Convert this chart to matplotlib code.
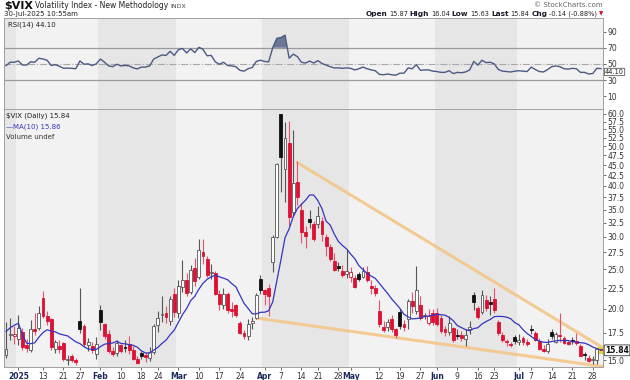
import numpy as np
import pandas as pd
import matplotlib
matplotlib.use('Agg')
import matplotlib.pyplot as plt
from matplotlib.ticker import FixedLocator, NullLocator

# trading days shown (Dec 27 2024 .. Jul 30 2025)
holidays = ['2025-01-01', '2025-01-09', '2025-01-20', '2025-02-17',
            '2025-04-18', '2025-05-26', '2025-06-19', '2025-07-04']
days = [d for d in pd.bdate_range('2024-12-27', '2025-07-30')
        if d.strftime('%Y-%m-%d') not in holidays]

# closes before the window, only used to start the MA(10)
warmup_close = [13.81, 14.69, 15.87, 27.62, 24.09, 18.36, 16.78, 14.27, 14.73]

opens = [15.45, 17.30, 17.20, 16.90, 17.60, 16.30, 15.90, 17.90, 18.00, 21.30,
         19.20, 18.90, 16.00, 16.20, 16.50, 15.00, 15.30, 15.00, 18.70, 18.20,
         16.30, 16.20, 15.50, 19.90, 18.40, 17.40, 15.80, 15.60, 16.30, 16.10,
         16.40, 15.90, 15.10, 15.60, 15.40, 15.20, 15.70, 18.30, 19.30, 19.60,
         18.70, 21.80, 19.60, 22.60, 23.60, 22.00, 25.20, 24.00, 27.50, 26.50,
         24.50, 24.50, 21.70, 20.50, 21.80, 20.00, 20.40, 18.50, 17.50, 17.20,
         18.50, 19.00, 23.70, 22.20, 22.50, 26.00, 30.00, 60.13, 44.00, 50.98,
         34.50, 40.90, 35.00, 30.80, 33.20, 32.30, 32.30, 32.80, 30.00, 28.40,
         26.20, 25.50, 24.70, 24.40, 23.90, 23.80, 24.30, 24.00, 24.60, 22.80,
         22.50, 19.80, 18.10, 18.10, 18.90, 17.90, 19.70, 18.40, 18.90, 20.90,
         19.80, 20.40, 19.25, 18.50, 19.60, 19.60, 19.00, 17.90, 17.60, 18.00,
         17.30, 17.30, 16.90, 17.90, 21.60, 20.10, 19.70, 21.00, 20.70, 21.10,
         18.60, 17.30, 16.70, 16.40, 17.10, 16.60, 17.00, 16.60, 17.90, 17.50,
         16.70, 16.00, 15.80, 17.60, 16.60, 17.30, 17.00, 16.60, 16.80, 16.70,
         16.20, 15.50, 15.20, 15.00, 15.00, 15.87]
highs = [18.61, 19.05, 18.20, 19.30, 18.00, 16.90, 18.80, 19.50, 20.30, 22.10,
         19.80, 19.00, 16.80, 16.80, 16.60, 15.40, 15.50, 15.20, 22.51, 18.40,
         17.00, 16.60, 17.10, 20.40, 18.50, 17.80, 16.10, 16.80, 16.40, 16.80,
         17.20, 16.20, 15.30, 15.80, 15.70, 16.10, 18.40, 19.80, 21.50, 20.30,
         21.50, 22.50, 23.50, 26.40, 24.50, 25.60, 26.60, 29.60, 29.60, 27.00,
         25.70, 24.80, 22.20, 22.50, 22.00, 20.80, 20.60, 18.70, 17.80, 18.90,
         19.10, 21.90, 24.20, 22.40, 23.00, 30.30, 45.60, 60.13, 57.50, 57.52,
         54.87, 46.00, 36.40, 32.00, 35.00, 32.80, 35.80, 33.50, 30.50, 28.90,
         27.40, 26.00, 25.60, 28.00, 25.30, 24.20, 24.60, 25.30, 25.50, 23.60,
         22.90, 21.00, 18.70, 18.90, 19.30, 18.00, 20.00, 18.80, 21.20, 22.00,
         25.50, 21.50, 19.50, 20.00, 20.00, 20.10, 19.30, 18.20, 19.20, 18.10,
         17.90, 17.70, 17.90, 18.70, 22.00, 20.30, 22.20, 21.60, 21.50, 22.50,
         18.80, 17.60, 16.90, 16.60, 17.30, 17.40, 17.20, 16.90, 18.30, 17.70,
         17.00, 16.30, 16.90, 17.90, 17.60, 19.50, 17.20, 16.70, 17.10, 17.50,
         16.40, 15.70, 15.40, 15.30, 16.00, 16.04]
lows = [15.20, 16.80, 16.40, 16.30, 15.90, 15.70, 15.70, 17.30, 17.80, 19.00,
        18.30, 15.90, 15.60, 15.60, 14.90, 14.60, 14.80, 14.60, 17.50, 16.10,
        15.80, 15.60, 15.10, 17.80, 16.90, 15.60, 15.30, 15.30, 15.60, 15.70,
        15.50, 15.00, 14.70, 15.10, 14.80, 14.90, 15.50, 17.60, 18.60, 18.50,
        18.30, 19.10, 19.00, 22.00, 21.50, 21.70, 22.80, 23.70, 25.80, 23.90,
        23.70, 21.60, 19.90, 20.00, 19.60, 19.10, 19.10, 17.40, 16.90, 16.80,
        17.90, 18.90, 21.70, 20.50, 19.20, 24.60, 29.80, 38.58, 36.50, 31.90,
        33.70, 36.00, 29.00, 28.20, 31.60, 29.30, 31.50, 29.30, 27.00, 26.20,
        24.70, 24.80, 23.90, 23.80, 23.30, 22.50, 23.40, 23.80, 23.30, 21.80,
        21.50, 18.10, 17.60, 17.70, 17.60, 17.00, 17.90, 17.70, 17.90, 19.60,
        19.40, 18.80, 18.90, 18.30, 18.30, 18.20, 17.50, 17.20, 17.30, 16.60,
        16.90, 16.70, 16.20, 17.40, 19.90, 18.90, 19.40, 19.80, 19.30, 19.50,
        17.30, 16.60, 16.20, 16.10, 16.40, 16.30, 16.30, 16.20, 17.40, 16.70,
        15.90, 15.70, 15.60, 16.90, 16.50, 16.60, 16.40, 16.30, 16.40, 16.30,
        15.30, 15.00, 14.80, 14.70, 14.70, 15.63]
closes = [15.95, 17.40, 17.35, 17.93, 16.13, 16.04, 17.82, 17.70, 19.54, 19.19,
          18.71, 16.12, 16.60, 15.97, 15.06, 15.10, 15.02, 14.85, 17.90, 16.41,
          16.56, 15.84, 16.43, 18.62, 17.21, 15.77, 15.50, 16.54, 15.81, 16.02,
          15.89, 15.10, 14.77, 15.35, 15.27, 15.66, 18.21, 18.98, 19.43, 19.10,
          21.13, 19.63, 22.78, 23.51, 21.93, 24.87, 23.37, 27.86, 26.92, 24.23,
          24.66, 21.77, 20.51, 21.70, 19.90, 19.80, 19.28, 17.48, 17.15, 18.33,
          18.69, 21.65, 22.28, 21.77, 21.51, 30.02, 45.31, 46.98, 52.33, 33.62,
          40.72, 37.56, 30.89, 30.12, 32.64, 29.65, 33.82, 30.57, 28.45, 26.47,
          24.84, 25.15, 24.17, 24.70, 24.60, 22.68, 23.64, 24.76, 23.55, 22.48,
          21.90, 18.39, 17.72, 18.62, 17.83, 17.24, 18.14, 18.09, 20.87, 20.28,
          22.29, 18.96, 19.31, 19.18, 18.57, 18.36, 17.69, 17.61, 18.48, 16.77,
          17.16, 16.95, 17.26, 18.02, 20.82, 19.11, 21.60, 20.14, 20.62, 19.83,
          17.48, 16.76, 16.59, 16.32, 16.73, 16.83, 16.64, 16.38, 17.79, 16.81,
          15.94, 15.78, 16.40, 17.20, 17.38, 17.16, 16.52, 16.41, 16.65, 16.50,
          15.37, 15.39, 14.93, 15.03, 15.98, 15.84]

# RSI(14)
rsi = [47.8, 52.0, 52.0, 53.6, 48.6, 48.5, 52.5, 52.0, 57.0, 56.0,
       54.5, 48.0, 49.0, 47.0, 44.6, 44.7, 44.5, 44.0, 53.6, 49.5,
       50.0, 48.0, 50.0, 56.0, 52.0, 47.5, 46.5, 49.5, 47.5, 48.0,
       47.5, 45.0, 43.8, 46.0, 46.0, 47.5, 56.0, 58.5, 61.0, 60.5,
       65.5, 60.5, 67.5, 69.0, 63.5, 68.5, 64.0, 70.5, 68.0, 60.0,
       60.5, 52.5, 49.5, 52.0, 48.0, 47.5, 46.5, 42.0, 41.0, 44.0,
       45.5, 53.0, 54.5, 53.0, 52.5, 70.0, 81.6, 82.5, 85.5, 57.0,
       62.0, 59.0, 52.0, 51.0, 53.5, 51.0, 54.0, 50.5, 48.5, 46.5,
       45.0, 45.0, 44.5, 45.0, 44.5, 42.5, 44.0, 46.0, 44.0, 42.5,
       41.5, 37.0, 36.5, 37.5, 36.5, 36.0, 38.5, 38.5, 45.0, 44.0,
       49.0, 42.0, 42.5, 42.5, 41.0, 40.5, 39.5, 39.5, 41.5, 38.0,
       39.5, 39.0, 40.0, 42.5, 53.0, 48.5, 54.5, 51.5, 52.0, 50.0,
       43.0, 41.0, 40.5, 40.0, 41.0, 41.5, 41.0, 40.5, 46.0, 43.0,
       40.5, 40.0, 43.0, 46.5, 47.5, 46.5, 44.0, 43.5, 44.5, 44.0,
       39.5, 39.5, 37.5, 38.0, 44.5, 44.1]

# wedge trendlines: (day index, price)
upper_line_x = [70.7, 145.5]
upper_line_y = [45.8, 16.07]
lower_line_x = [61.0, 145.5]
lower_line_y = [19.0, 14.45]

tick_dates = ['2025-01-02', '2025-01-13', '2025-01-21', '2025-01-27', '2025-02-03',
              '2025-02-10', '2025-02-18', '2025-02-24', '2025-03-03', '2025-03-10',
              '2025-03-17', '2025-03-24', '2025-04-01', '2025-04-07', '2025-04-14',
              '2025-04-21', '2025-04-28', '2025-05-01', '2025-05-12', '2025-05-19',
              '2025-05-27', '2025-06-02', '2025-06-09', '2025-06-16', '2025-06-23',
              '2025-07-01', '2025-07-07', '2025-07-14', '2025-07-21', '2025-07-28']
month_ticks = {'2025-01-02': '2025', '2025-02-03': 'Feb', '2025-03-03': 'Mar',
               '2025-04-01': 'Apr', '2025-05-01': 'May', '2025-06-02': 'Jun',
               '2025-07-01': 'Jul'}

price_ticks = [15.0, 17.5, 20.0, 22.5, 25.0, 27.5, 30.0, 32.5, 35.0, 37.5, 40.0,
               42.5, 45.0, 47.5, 50.0, 52.5, 55.0, 57.5, 60.0]
rsi_ticks = [10, 30, 50, 70, 90]

W, H = 630, 380
day_str = [d.strftime('%Y-%m-%d') for d in days]
x = np.arange(len(days))
ma10 = pd.Series(warmup_close + closes).rolling(10).mean().to_numpy()[len(warmup_close):]

fig = plt.figure(figsize=(W / 100, H / 100), dpi=100)
plt.rcParams['font.family'] = 'DejaVu Sans'


def fx(px):
    return px / W


def fy(py):
    return 1 - py / H


ax_r = fig.add_axes([fx(4), fy(109), fx(603) - fx(4), fy(18) - fy(109)])
ax = fig.add_axes([fx(4), fy(367), fx(603) - fx(4), fy(109) - fy(367)])

# month background bands
months = pd.Series([d.strftime('%Y-%m') for d in days])
k = 0
for m in months.unique():
    idx = np.where(months == m)[0]
    c = '#e6e6e6' if k % 2 == 0 else '#f2f2f2'
    for a in (ax, ax_r):
        a.axvspan(idx[0] - 0.5, idx[-1] + 0.5, color=c, zorder=0, lw=0)
    k += 1

# ---- RSI panel
ax_r.plot(x, rsi, color='#4c5a82', lw=1.0, zorder=3)
ax_r.fill_between(x, rsi, 70, where=np.array(rsi) > 70, interpolate=True,
                  color='#5f6b8c', alpha=0.9, zorder=2, lw=0)
ax_r.axhline(70, color='#9a9a9a', lw=0.9, zorder=1)
ax_r.axhline(30, color='#9a9a9a', lw=0.9, zorder=1)
ax_r.axhline(50, color='#a8a8a8', lw=0.8, ls='-.', zorder=1)
ax_r.set_ylim(-5.8, 106.7)
ax_r.set_xlim(-0.5, len(days) - 0.5)
ax_r.yaxis.tick_right()
ax_r.yaxis.set_major_locator(FixedLocator(rsi_ticks))
ax_r.set_xticks([])
ax_r.tick_params(axis='y', labelsize=5.5, length=2, width=0.5, pad=1, colors='#333333')
ax_r.text(0.006, 0.96, 'RSI(14) 44.10', transform=ax_r.transAxes, fontsize=5,
          va='top', ha='left', color='#222222')
ax_r.annotate('44.10', xy=(1, 40.0), xycoords=('axes fraction', 'data'),
              xytext=(1.5, 0), textcoords='offset points', fontsize=4.8, va='center',
              ha='left', color='#222222', zorder=10,
              bbox=dict(boxstyle='round,pad=0.1', fc='white', ec='#555555', lw=0.6))

# ---- price panel
for i in x:
    o, h, l, c = opens[i], highs[i], lows[i], closes[i]
    prev = warmup_close[-1] if i == 0 else closes[i - 1]
    up = c >= prev
    col = '#111111' if up else '#dd1133'
    wick = '#555555' if up else '#e8506e'
    ax.vlines(i, l, h, color=wick, lw=0.8, zorder=3)
    lo, hi = min(o, c), max(o, c)
    if hi / lo < 1.006:
        hi = lo * 1.006
    if c >= o:
        face, edge = 'white', ('#555555' if up else '#dd1133')
    else:
        face, edge = col, col
    ax.bar(i, hi - lo, bottom=lo, width=0.7, color=face, edgecolor=edge,
           lw=0.6, zorder=4)

ax.plot(x, ma10, color='#3535c0', lw=0.9, zorder=5)
ax.plot(upper_line_x, upper_line_y, color='#f4c68a', lw=2.2, alpha=0.9,
        zorder=2, solid_capstyle='butt')
ax.plot(lower_line_x, lower_line_y, color='#f4c68a', lw=2.2, alpha=0.9,
        zorder=2, solid_capstyle='butt')
# latest price marker
ax.scatter([x[-1]], [closes[-1]], marker='s', s=30, color='#e0d830', zorder=3.5,
           edgecolors='none')

ax.set_yscale('log')
ax.set_ylim(14.42, 61.7)
ax.set_xlim(-0.5, len(days) - 0.5)
ax.yaxis.tick_right()
ax.yaxis.set_major_locator(FixedLocator(price_ticks))
ax.yaxis.set_minor_locator(NullLocator())
ax.set_yticklabels(['%.1f' % t for t in price_ticks])
ax.tick_params(axis='y', labelsize=5.5, length=2, width=0.5, pad=1, colors='#333333')

tpos = [day_str.index(t) for t in tick_dates]
ax.set_xticks(tpos)
ax.set_xticklabels([month_ticks.get(t, str(int(t[-2:]))) for t in tick_dates])
ax.tick_params(axis='x', labelsize=5.5, length=2, width=0.5, pad=1.5, colors='#333333')
for lab, t in zip(ax.get_xticklabels(), tick_dates):
    if t in month_ticks:
        lab.set_fontweight('bold')
        lab.set_color('#1c2a5c')

ax.annotate('15.84', xy=(1, closes[-1]), xycoords=('axes fraction', 'data'),
            xytext=(1.5, 0), textcoords='offset points', fontsize=5.5, va='center',
            ha='left', color='#111111', fontweight='bold',
            bbox=dict(boxstyle='round,pad=0.12', fc='white', ec='#333333', lw=0.6))

ax.text(0.004, 0.985, '$VIX (Daily) 15.84', transform=ax.transAxes, fontsize=5,
        va='top', color='#222222')
ax.text(0.004, 0.945, '—MA(10) 15.86', transform=ax.transAxes, fontsize=5,
        va='top', color='#3535c0')
ax.text(0.004, 0.905, 'Volume undef', transform=ax.transAxes, fontsize=5,
        va='top', color='#333333')

for a in (ax, ax_r):
    for s in a.spines.values():
        s.set_color('#a0a0a0')
        s.set_linewidth(0.7)

# ---- header text
renderer = fig.canvas.get_renderer()


def seq_text(x0, y0, pieces, gap=2, right=False):
    arts = [fig.text(0, fy(y0), s, va='center', ha='left', **kw) for s, kw in pieces]
    widths = [t.get_window_extent(renderer).width for t in arts]
    xp = x0 - (sum(widths) + gap * (len(arts) - 1)) if right else x0
    for t, w in zip(arts, widths):
        t.set_x(fx(xp))
        xp += w + gap


seq_text(4, 6, [('$VIX', dict(fontsize=8, fontweight='bold', color='#111111')),
                ('Volatility Index - New Methodology', dict(fontsize=5.5, color='#222222')),
                ('INDX', dict(fontsize=4.5, color='#444444'))])
fig.text(fx(4), fy(14), '30-Jul-2025 10:55am', fontsize=5, va='center', color='#222222')
fig.text(fx(603), fy(5), '© StockCharts.com', fontsize=5, va='center', ha='right',
         color='#666666')
b = dict(fontsize=5.3, fontweight='bold', color='#1a1a2a')
n = dict(fontsize=4.8, color='#222222')
seq_text(603, 14, [('Open', b), ('15.87', n), ('High', b), ('16.04', n),
                   ('Low', b), ('15.63', n), ('Last', b), ('15.84', n),
                   ('Chg', b), ('-0.14 (-0.88%)', n),
                   ('▼', dict(fontsize=4, color='#cc1122'))], gap=1.8, right=True)

fig.savefig('out.png', dpi=100)
